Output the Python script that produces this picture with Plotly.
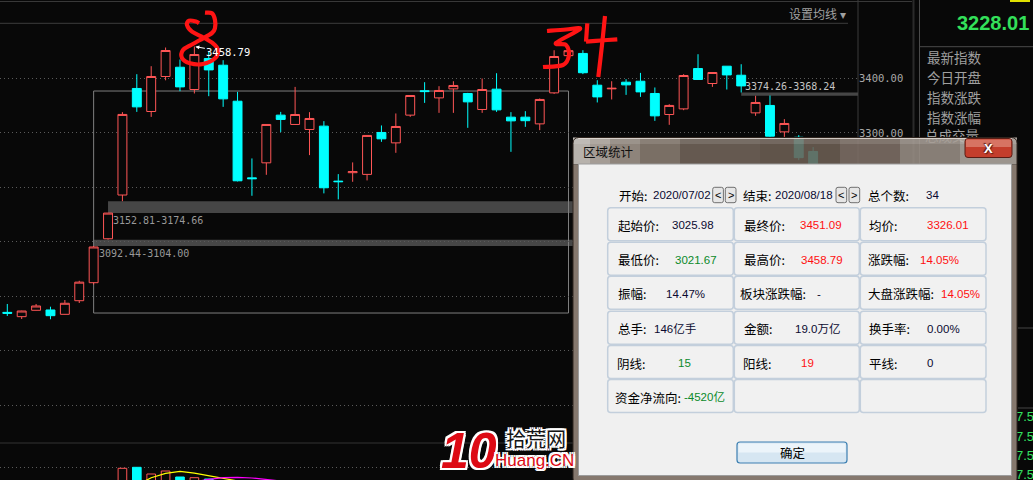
import plotly.graph_objects as go

W, H = 1033, 480

# ---------------- data ----------------
opens = [2970.5, 2962.6, 2974.3, 2974.9, 2966.9, 2991.9, 3025.0, 3105.7, 3186.0, 3381.7,
         3339.4, 3403.7, 3420.7, 3379.8, 3436.7, 3424.4, 3358.3, 3217.5, 3245.1, 3332.7,
         3315.6, 3306.4, 3312.5, 3211.5, 3227.0, 3223.9, 3300.9, 3281.8, 3332.7, 3377.5,
         3364.4, 3380.9, 3372.5, 3343.1, 3380.4, 3329.0, 3329.0, 3316.7, 3373.6, 3442.0,
         3446.0, 3387.7, 3381.0, 3393.2, 3395.0, 3372.5, 3333.9, 3344.2, 3418.3, 3390.8,
         3422.6, 3406.0, 3336.9, 3350.5, 3302.0, 3292.0, 3266.0]
highs = [2985.9, 2973.5, 2985.9, 2980.9, 2993.2, 3028.5, 3092.44, 3152.81, 3338.2, 3407.9,
         3422.6, 3456.9, 3434.9, 3458.79, 3449.0, 3433.6, 3375.4, 3253.2, 3315.8, 3338.7,
         3384.6, 3338.2, 3321.7, 3224.4, 3245.9, 3296.0, 3313.8, 3335.8, 3369.2, 3393.2,
         3385.9, 3395.0, 3373.6, 3400.0, 3409.7, 3338.2, 3340.0, 3363.3, 3451.9, 3457.0,
         3452.0, 3396.9, 3395.0, 3398.7, 3410.3, 3383.5, 3352.8, 3407.9, 3444.6, 3411.2,
         3422.8, 3426.2, 3368.24, 3368.8, 3325.3, 3296.0, 3274.0]
lows = [2963.9, 2958.3, 2974.0, 2957.8, 2966.5, 2987.7, 3021.67, 3104.00, 3174.66, 3338.7,
        3329.5, 3396.7, 3376.7, 3372.5, 3367.5, 3347.9, 3211.0, 3184.6, 3223.1, 3301.5,
        3315.0, 3259.3, 3189.0, 3178.0, 3210.3, 3212.8, 3283.7, 3263.5, 3329.5, 3355.2,
        3336.9, 3336.9, 3309.4, 3336.9, 3338.7, 3265.3, 3311.2, 3305.1, 3371.7, 3441.0,
        3408.0, 3356.0, 3361.5, 3369.9, 3366.2, 3322.2, 3314.9, 3341.8, 3398.0, 3384.6,
        3379.8, 3374.26, 3331.4, 3292.8, 3292.8, 3250.0, 3230.0]
closes = [2968.8, 2973.0, 2982.2, 2964.4, 2987.2, 3025.98, 3090.6, 3152.81, 3334.0, 3347.9,
          3403.7, 3451.4, 3384.6, 3444.0, 3415.8, 3362.6, 3212.1, 3216.0, 3315.6, 3324.8,
          3333.9, 3326.6, 3199.3, 3210.5, 3229.0, 3295.4, 3289.2, 3311.9, 3368.8, 3376.0,
          3378.0, 3387.2, 3357.1, 3379.8, 3342.4, 3322.2, 3322.5, 3361.5, 3440.4, 3451.09,
          3410.6, 3366.2, 3382.0, 3388.3, 3375.4, 3331.4, 3350.5, 3405.5, 3398.2, 3411.0,
          3406.6, 3386.4, 3356.0, 3294.1, 3317.4, 3254.6, 3236.0]
volumes = [2.3, 2.2, 2.4, 2.3, 2.6, 3.2, 3.9, 4.4, 5.87, 5.97,
           5.3, 5.6, 5.0, 4.93, 4.8, 4.5, 4.6, 3.9, 4.2, 3.8,
           3.6, 3.7, 4.1, 3.4, 3.0, 3.6, 3.3, 3.4, 4.0, 4.2,
           3.8, 3.9, 4.0, 3.5, 4.3, 3.9, 3.1, 3.4, 4.2, 4.4,
           3.9, 3.4, 3.0, 3.2, 3.3, 3.1, 2.8, 3.5, 3.8, 3.6,
           3.4, 3.5, 3.3, 3.6, 2.9, 3.0, 2.8]
ma5_idx = [9, 10, 11, 12, 13, 14, 15, 16, 17]
ma5 = [4.2, 4.92, 5.36, 5.57, 5.38, 5.09, 4.83, 4.55, 4.35]
ma10_idx = [12, 13, 14, 15, 16, 17, 18, 19, 20]
ma10 = [4.3, 4.55, 4.76, 4.93, 4.97, 4.9, 4.77, 4.6, 4.45]

price_ticks = [2800, 2900, 3000, 3100, 3200, 3300, 3400]
price_tick_labels = ['', '', '', '', '', '3300.00', '3400.00']
vol_ticks = [6.0]

gap_start_idx = [6, 7, 51]
gap_low = [3092.44, 3152.81, 3368.24]
gap_high = [3104.00, 3174.66, 3374.26]
gap_labels = ['3092.44-3104.00', '3152.81-3174.66', '3374.26-3368.24']

sel_start, sel_end = 6, 39
sel_low, sel_high = 2969.3, 3377.0
peak_idx, peak_val, peak_label = 13, 3458.79, '3458.79'

side_price = '3228.01'
side_labels = ['最新指数', '今日开盘', '指数涨跌', '指数涨幅']
side_cut_label = '总成交量'
side_cut_numbers = ['7.50', '7.50', '7.50', '7.50']
menu_label = '设置均线 ▾'

dlg_title = '区域统计'
dlg_start, dlg_end, dlg_count = '2020/07/02', '2020/08/18', '34'
stat_labels = [['起始价:', '最终价:', '均价:'],
               ['最低价:', '最高价:', '涨跌幅:'],
               ['振幅:', '板块涨跌幅:', '大盘涨跌幅:'],
               ['总手:', '金额:', '换手率:'],
               ['阴线:', '阳线:', '平线:'],
               ['资金净流向:', '', '']]
stat_values = [['3025.98', '3451.09', '3326.01'],
               ['3021.67', '3458.79', '14.05%'],
               ['14.47%', '-', '14.05%'],
               ['146亿手', '19.0万亿', '0.00%'],
               ['15', '19', '0'],
               ['-4520亿', '', '']]
stat_kind = [['n', 'r', 'r'],
             ['g', 'r', 'r'],
             ['n', 'n', 'r'],
             ['n', 'n', 'n'],
             ['g', 'r', 'n'],
             ['g', 'n', 'n']]

# ---------------- styling / layout helpers ----------------
BG = '#080808'
UP = '#ff5656'
DN = '#00ffff'
GRID = '#5a5a5a'
CJK = 'Noto Sans CJK SC'
LAT = 'Liberation Sans, Noto Sans CJK SC'
MONO = 'DejaVu Sans Mono'
KIND_COLOR = {'n': '#0a0a30', 'r': '#ff1010', 'g': '#0a8a2a'}

X0_PX, STEP_PX, AXIS_PX = 7.3, 14.39, 858.0
x_range = [-X0_PX / STEP_PX, (AXIS_PX - X0_PX) / STEP_PX]
PRICE_TOP_PX, PRICE_BOT_PX = 23.3, 443.0
P_REF, P_REF_PX, PX_PER_PT = 3400.0, 78.5, 0.5445
y_range = [P_REF - (PRICE_BOT_PX - P_REF_PX) / PX_PER_PT, P_REF + (P_REF_PX - PRICE_TOP_PX) / PX_PER_PT]
VOL_REF, VOL_REF_PX, VOL_PX = 6.0, 467.0, 10.0
v_range = [VOL_REF - (H - VOL_REF_PX) / VOL_PX, VOL_REF + (VOL_REF_PX - PRICE_BOT_PX) / VOL_PX]


def X(x):
    return x / W


def Y(y):
    return 1 - y / H


shapes = []
annotations = []


def pline(x0, y0, x1, y1, color, width=1, layer='below'):
    shapes.append(dict(type='line', xref='paper', yref='paper', x0=X(x0), y0=Y(y0), x1=X(x1), y1=Y(y1),
                       line=dict(color=color, width=width), layer=layer))


def prect(x0, y0, x1, y1, fill, line=None, lw=0, layer='above', opacity=1.0):
    shapes.append(dict(type='rect', xref='paper', yref='paper', x0=X(x0), y0=Y(y0), x1=X(x1), y1=Y(y1),
                       fillcolor=fill, line=dict(color=line or 'rgba(0,0,0,0)', width=lw),
                       layer=layer, opacity=opacity))


def rrect(x0, y0, x1, y1, r, fill, line, lw=1, layer='above'):
    d = (f"M {X(x0 + r)},{Y(y0)} L {X(x1 - r)},{Y(y0)} Q {X(x1)},{Y(y0)} {X(x1)},{Y(y0 + r)} "
         f"L {X(x1)},{Y(y1 - r)} Q {X(x1)},{Y(y1)} {X(x1 - r)},{Y(y1)} "
         f"L {X(x0 + r)},{Y(y1)} Q {X(x0)},{Y(y1)} {X(x0)},{Y(y1 - r)} "
         f"L {X(x0)},{Y(y0 + r)} Q {X(x0)},{Y(y0)} {X(x0 + r)},{Y(y0)} Z")
    shapes.append(dict(type='path', xref='paper', yref='paper', path=d, fillcolor=fill,
                       line=dict(color=line, width=lw), layer=layer))


def stroke(pts, color='#ff1414', width=4.2):
    d = f"M {X(pts[0][0])},{Y(pts[0][1])}"
    for i in range(len(pts) - 1):
        p0 = pts[i - 1] if i > 0 else pts[i]
        p1, p2 = pts[i], pts[i + 1]
        p3 = pts[i + 2] if i + 2 < len(pts) else pts[i + 1]
        c1 = (p1[0] + (p2[0] - p0[0]) / 6, p1[1] + (p2[1] - p0[1]) / 6)
        c2 = (p2[0] - (p3[0] - p1[0]) / 6, p2[1] - (p3[1] - p1[1]) / 6)
        d += f" C {X(c1[0])},{Y(c1[1])} {X(c2[0])},{Y(c2[1])} {X(p2[0])},{Y(p2[1])}"
    shapes.append(dict(type='path', xref='paper', yref='paper', path=d, fillcolor='rgba(0,0,0,0)',
                       line=dict(color=color, width=width), layer='above'))


def txt(x, y, s, color='#000000', size=12, family=CJK, xanchor='left', yanchor='middle', **kw):
    annotations.append(dict(x=X(x), y=Y(y), xref='paper', yref='paper', text=s, showarrow=False,
                            xanchor=xanchor, yanchor=yanchor,
                            font=dict(color=color, size=size, family=family, **kw.pop('font_extra', {})), **kw))


# ---------------- traces ----------------
idx = list(range(len(opens)))
fig = go.Figure()
fig.add_trace(go.Candlestick(
    x=idx, open=opens, high=highs, low=lows, close=closes, xaxis='x', yaxis='y',
    increasing=dict(line=dict(color=UP, width=1), fillcolor=BG),
    decreasing=dict(line=dict(color=DN, width=1), fillcolor=DN),
    whiskerwidth=0, hoverinfo='skip', showlegend=False))

up = [c >= o for o, c in zip(opens, closes)]
fig.add_trace(go.Bar(
    x=idx, y=volumes, xaxis='x', yaxis='y2', width=0.6,
    marker=dict(color=[BG if u else DN for u in up],
                line=dict(color=[UP if u else DN for u in up], width=1)),
    hoverinfo='skip', showlegend=False))
fig.add_trace(go.Scatter(x=ma5_idx, y=ma5, xaxis='x', yaxis='y2', mode='lines',
                         line=dict(color='#ffff00', width=1.2), hoverinfo='skip', showlegend=False))
fig.add_trace(go.Scatter(x=ma10_idx, y=ma10, xaxis='x', yaxis='y2', mode='lines',
                         line=dict(color='#ff00ff', width=1.2), hoverinfo='skip', showlegend=False))

# texts that the dialog / page edge partly hides (pixel overlay subplot)
fig.add_trace(go.Scatter(x=[925], y=[137.5], xaxis='x3', yaxis='y3', mode='text', text=[side_cut_label],
                         textposition='middle right', textfont=dict(color='#a0a0a0', size=13.5, family=CJK),
                         hoverinfo='skip', showlegend=False))
fig.add_trace(go.Scatter(x=[1016] * 4, y=[418, 437.5, 457, 476], xaxis='x3', yaxis='y3', mode='text',
                         text=side_cut_numbers, textposition='middle right',
                         textfont=dict(color='#33e060', size=13, family='Liberation Sans'),
                         hoverinfo='skip', showlegend=False))

# ---------------- chart decorations ----------------
pline(0, 1.5, 912, 1.5, '#383838')
pline(0, 23.3, 848, 23.3, '#3c3c3c')
pline(AXIS_PX, 0, AXIS_PX, H, '#3a3a3a')
pline(913.5, 0, 913.5, H, '#2a2a2a', 2)
pline(919.5, 0, 919.5, H, '#4a4a4a')
pline(920, 46.7, W, 46.7, '#4a4a4a')
pline(1018, 328, W, 328, '#444444')
pline(1018, 408, W, 408, '#444444')
pline(0, PRICE_BOT_PX, AXIS_PX, PRICE_BOT_PX, '#333333')
prect(1010, 0, 1030, 2, '#e0e000', layer='below')

for gi, lo, hi, lab in zip(gap_start_idx, gap_low, gap_high, gap_labels):
    shapes.append(dict(type='rect', xref='x', yref='y', x0=gi, x1=x_range[1] + 1, y0=lo, y1=hi,
                       fillcolor='#464646', line=dict(width=0), layer='below'))
    if hi > 3300:
        annotations.append(dict(x=gi, y=hi, xref='x', yref='y', text=lab, showarrow=False,
                                xanchor='left', yanchor='bottom', xshift=2, yshift=-1,
                                font=dict(color='#c4c4c4', size=10, family=MONO)))
    else:
        annotations.append(dict(x=gi, y=lo, xref='x', yref='y', text=lab, showarrow=False,
                                xanchor='left', yanchor='top', xshift=3, yshift=0,
                                font=dict(color='#999999', size=10, family=MONO)))

shapes.append(dict(type='rect', xref='x', yref='y', x0=sel_start, x1=sel_end, y0=sel_low, y1=sel_high,
                   fillcolor='rgba(0,0,0,0)', line=dict(color='#7e7e7e', width=1), layer='below'))

annotations.append(dict(x=peak_idx, y=peak_val, xref='x', yref='y', text=peak_label, showarrow=True,
                        ax=34, ay=6, arrowcolor='#ffffff', arrowwidth=1, arrowhead=2, arrowsize=0.8,
                        standoff=1, font=dict(color='#ffffff', size=10.5, family=MONO)))

txt(848, 13.5, menu_label, color='#a0a0a0', size=12, xanchor='right')
txt(1031, 23.5, side_price, color='#33e05a', size=20, family='Liberation Sans', xanchor='right',
    font_extra=dict(weight='bold'))
for k, lab in enumerate(side_labels):
    txt(925, 57.3 + 19.8 * k, lab, color='#a0a0a0', size=13.5)

# hand-drawn red marks
stroke([(205, 12.7), (212, 13.3), (215, 20), (215, 28), (212, 33), (200, 40), (191, 45), (183, 50),
        (182, 58), (190, 63.3), (203, 64), (215, 58.3), (218, 50), (213, 43.3), (203, 37.3),
        (192, 31.7), (187, 25), (189, 20.7), (196, 21.5), (199, 23.3)])
stroke([(547, 31), (566, 29.5), (580, 29), (556, 43), (566, 45), (569, 55), (563, 65), (543, 67)])
stroke([(587.3, 23.3), (586, 41.7)])
stroke([(586, 41.7), (601, 40.5), (617.3, 39.3)])
stroke([(605, 16), (602, 45), (598.3, 77)])

# watermark
shadow = '2px 2px 0 #fff, -2px -2px 0 #fff, 2px -2px 0 #fff, -2px 2px 0 #fff, 0 2px 0 #fff, 0 -2px 0 #fff, 2px 0 0 #fff, -2px 0 0 #fff'
txt(469, 451, '10', color='#dd0a14', size=50, family='Liberation Sans',
    xanchor='center', font_extra=dict(weight='bold', style='italic', shadow=shadow))
txt(536, 438, '拾荒网', color='#151515', size=20, xanchor='center', font_extra=dict(shadow=shadow))
txt(493, 460.5, 'Huang.CN', color='#dd0a14', size=17, family='Liberation Sans', font_extra=dict(shadow=shadow))

# ---------------- dialog ----------------
title_slices = [(573, 590, '#cfc9c3'), (590, 610, '#b9b1a9'), (610, 640, '#a0958b'), (640, 680, '#8a7d72'),
                (680, 760, '#72645a'), (760, 840, '#6c5e53'), (840, 900, '#7e7066'),
                (900, 960, '#988e85'), (960, 1017, '#b0a8a1')]
for a, b, c in title_slices:
    prect(a, 137.5, b, 164.5, c, opacity=0.88)
prect(573, 137.5, 1017, 144, '#ffffff', opacity=0.12)
prect(573, 164.5, 1017, 484, '#85786e')
prect(578.5, 164, 1011.5, 475.5, '#f0f0f0', line='#9c9c9c', lw=1)
pline(578, 138.3, 1012, 138.3, '#e6e0da', 1, layer='above')

col_x = [(607.7, 733.3), (734.3, 859.3), (860.3, 986.0)]
row_y = [207.7, 242.3, 276.3, 311.2, 345.5, 379.5]
for ry in row_y:
    for cx0, cx1 in col_x:
        rrect(cx0, ry, cx1, ry + 33, 3, '#f1f1f1', '#c3cfdc', 1.5)

label_x = [[616, 742, 867], [616, 742, 866], [616, 738, 866], [616, 742, 867], [615, 741, 867], [613, 742, 867]]
value_x = [[670, 798, 925], [673, 799, 918], [664, 815, 939], [652, 793, 925], [676, 799, 925], [682, 800, 925]]
for r, ry in enumerate(row_y):
    yc = ry + 17.5
    for c in range(3):
        if stat_labels[r][c]:
            txt(label_x[r][c], yc, stat_labels[r][c], size=12.5)
        if stat_values[r][c]:
            txt(value_x[r][c], yc, stat_values[r][c], color=KIND_COLOR[stat_kind[r][c]], size=11.5, family=LAT)

# header row of dialog
txt(617, 195, '开始:', size=12.5)
txt(651, 195, dlg_start, size=11.5, family=LAT, color='#0a0a30')
txt(741, 195, '结束:', size=12.5)
txt(773, 195, dlg_end, size=11.5, family=LAT, color='#0a0a30')
txt(866, 195, '总个数:', size=12.5)
txt(924, 195, dlg_count, size=11.5, family=LAT, color='#0a0a30')
for bx, ch in [(712.7, '<'), (725.3, '>'), (836, '<'), (849, '>')]:
    rrect(bx, 187.3, bx + 10.7, 202.7, 2, '#e6e6e6', '#707070', 1)
    txt(bx + 5.35, 195, ch, size=11, family=LAT, xanchor='center')

# title + close button
txt(581, 151.5, dlg_title, size=12.5, color='#101010')
rrect(965, 138.5, 1012, 157.5, 3, '#c43e2c', '#5a1c14', 1)
prect(966, 139.5, 1011, 147, '#e49a88', opacity=0.6)
txt(988.5, 148, 'X', color='#ffffff', size=13, family='Liberation Sans', xanchor='center',
    font_extra=dict(weight='bold', shadow='1px 1px 1px #5a1c14, -1px -1px 1px #5a1c14'))

# OK button
rrect(737, 442, 847, 463, 3, '#d6e6f2', '#3c7fb1', 1.2)
prect(738.5, 443.5, 845.5, 452.5, '#eef5fb', opacity=0.9)
txt(792, 452.5, '确定', size=12.5, xanchor='center')

# outer frame outline
rrect(573, 137.5, 1017, 484, 6, 'rgba(0,0,0,0)', '#2e241e', 1)

# ---------------- layout ----------------
fig.update_layout(
    width=W, height=H, margin=dict(l=0, r=0, t=0, b=0),
    paper_bgcolor=BG, plot_bgcolor='rgba(0,0,0,0)', showlegend=False,
    boxgap=0.38, boxgroupgap=0,
    xaxis=dict(domain=[0, AXIS_PX / W], range=x_range, visible=False, showgrid=False,
               rangeslider=dict(visible=False), fixedrange=True),
    yaxis=dict(domain=[Y(PRICE_BOT_PX), Y(PRICE_TOP_PX)], range=y_range, anchor='x', side='right',
               tickvals=price_ticks, ticktext=price_tick_labels, showgrid=True, gridcolor=GRID,
               griddash='1px,3px', gridwidth=1, zeroline=False, showline=False, ticks='',
               tickfont=dict(color='#a8a8a8', size=10.5, family=MONO)),
    yaxis2=dict(domain=[0, Y(PRICE_BOT_PX)], range=v_range, anchor='x', showticklabels=False,
                tickvals=vol_ticks, showgrid=True, gridcolor=GRID, griddash='1px,3px',
                zeroline=False, showline=False, ticks=''),
    xaxis3=dict(domain=[0, 1], range=[0, W], visible=False, anchor='y3'),
    yaxis3=dict(domain=[0, 1], range=[H, 0], visible=False, anchor='x3'),
    shapes=shapes, annotations=annotations,
)

fig.write_html("out.html", config={'displayModeBar': False},
               post_script="document.body.style.margin='0';document.body.style.overflow='hidden';")
